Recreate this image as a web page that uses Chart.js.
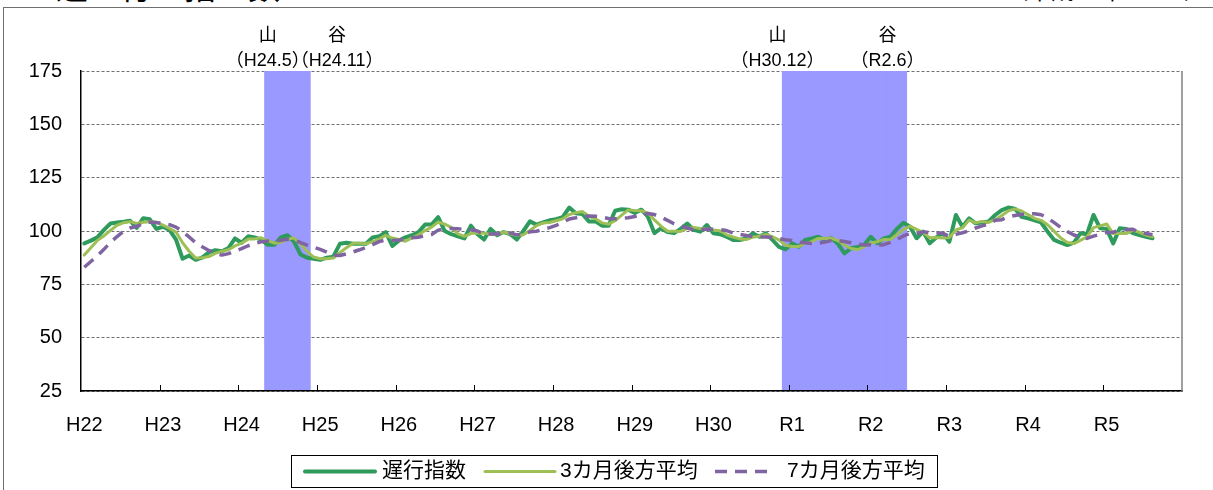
<!DOCTYPE html>
<html lang="ja">
<head>
<meta charset="UTF-8">
<title>遅行指数</title>
<script src="https://cdn.jsdelivr.net/npm/chart.js"></script>
<style>
  body { margin: 0; width: 1213px; height: 490px; overflow: hidden; position: relative; background: #fff; }
  #frame { position: absolute; left: 3px; top: 7px; width: 1300px; height: 600px; border: 1.5px solid #707070; }
  .cap { position: absolute; font-family: "Noto Sans CJK JP", sans-serif; line-height: 1; white-space: nowrap; color: #000; }
  #title { left: 56px; top: -31px; font-size: 32px; }
  #unit { right: 6px; top: -22px; font-size: 23px; }
  #wrap { position: absolute; left: 0; top: 0; width: 1213px; height: 490px; }
</style>
</head>
<body>
<div id="frame"></div>
<div id="title" class="cap">遅　行　指　数</div>
<div id="unit" class="cap">（平成27年＝100）</div>
<div id="wrap"><canvas id="chart" width="1213" height="490"></canvas></div>
<script>
  // 年の目盛り（各12か月）
  const years = ['H22', 'H23', 'H24', 'H25', 'H26', 'H27', 'H28', 'H29', 'H30', 'R1', 'R2', 'R3', 'R4', 'R5'];

  // 遅行指数（H22.1〜）
  const lagIndex = [
    94.2, 95.5, 97, 100.5, 103.5, 104, 104.3, 104.8, 101.5, 106, 105.5, 101,
    102, 100.5, 96, 87, 88.5, 86.5, 87.5, 90, 91, 90.5, 92, 96.5,
    94.5, 97.5, 97, 96, 93.5, 93.5, 97, 98, 95, 89, 87.5, 87,
    86.5, 87.5, 88, 94, 94.5, 94, 94, 94, 97, 97.5, 99.5, 93,
    95.5, 97, 98, 99.5, 103, 103, 106.5, 100, 98.5, 97.5, 96.5, 102.5,
    98.5, 96, 101, 98, 99.5, 98.5, 96, 100, 104.5, 103, 104, 105,
    105.5, 106.5, 111, 108.3, 108, 104.5, 104.5, 102.5, 102.5, 109.5, 110.2, 110,
    108.5, 110, 106.7, 99, 101.3, 99.5, 99, 101, 103.5, 100.5, 99.7, 102.8,
    98.9, 98.5, 97.3, 95.8, 95.8, 96.5, 98.9, 97.3, 98.9, 95.8, 92.6, 91.4,
    94.2, 92.6, 95.8, 96.5, 97.3, 95.8, 96.6, 94, 89.5, 91.9, 92.5, 93.4,
    97.3, 94.2, 96.5, 97.3, 101, 103.9, 102, 96.6, 99.7, 94.2, 97, 98.9,
    95, 107.5, 102, 105.9, 103.6, 104, 104.5, 107.5, 109.8, 111, 110.5, 106.7,
    105.9, 105, 104, 99.7, 95.8, 94.5, 93.4, 94.5, 98.9, 98.5, 107.5, 101.3,
    101, 94.2, 101.3, 101, 99, 98.1, 97.3, 96.6
  ];

  // 3カ月後方平均
  const avg3 = [
    88.7, 92.2, 95.6, 97.7, 100.3, 102.7, 103.9, 104.4, 103.5, 104.1, 104.3, 104.2,
    102.8, 101.2, 99.5, 94.5, 90.5, 87.3, 87.5, 88, 89.5, 90.5, 91.2, 93,
    94.3, 96.2, 96.3, 96.8, 95.5, 94.3, 94.7, 96.2, 96.7, 94, 90.5, 87.8,
    87, 87, 87.3, 89.8, 92.2, 94.2, 94.2, 94, 95, 96.2, 98, 96.7,
    96, 95.2, 96.8, 98.2, 100.2, 101.8, 104.2, 103.2, 101.7, 98.7, 97.5, 98.8,
    99.2, 99, 98.5, 98.3, 99.5, 98.7, 98, 98.2, 100.2, 102.5, 103.8, 104,
    104.8, 105.7, 107.7, 108.6, 109.1, 106.9, 105.7, 103.8, 103.2, 104.8, 107.4, 109.9,
    109.6, 109.5, 108.4, 105.2, 102.3, 99.9, 99.9, 99.8, 101.2, 101.7, 101.2, 101,
    100.5, 100.1, 98.2, 97.2, 96.3, 96, 97.1, 97.6, 98.4, 97.3, 95.8, 93.3,
    92.7, 92.7, 94.2, 95, 96.5, 96.5, 96.6, 95.5, 93.4, 91.8, 91.3, 92.6,
    94.4, 95, 96, 96, 98.3, 100.7, 102.3, 100.8, 99.4, 96.8, 97, 96.7,
    97, 100.5, 101.5, 105.1, 103.8, 104.5, 104, 105.3, 107.3, 109.4, 110.4, 109.4,
    107.7, 105.9, 105, 102.9, 99.8, 96.7, 94.6, 94.1, 95.6, 97.3, 101.6, 102.4,
    103.3, 98.8, 98.8, 98.8, 100.4, 99.4, 98.1, 97.3
  ];

  // 7カ月後方平均
  const avg7 = [
    83, 85.7, 88.4, 91.4, 94.7, 97.4, 99.9, 101.4, 102.2, 103.5, 104.2, 103.9,
    103.6, 103, 101.8, 99.7, 97.2, 94.5, 92.6, 90.9, 89.5, 88.7, 89.4, 90.6,
    91.7, 93.1, 94.1, 94.9, 95.3, 95.5, 95.6, 96.1, 95.7, 94.6, 93.4, 92.4,
    91.4, 90.1, 88.6, 88.5, 89.3, 90.2, 91.2, 92.3, 93.6, 95, 95.8, 95.6,
    95.8, 96.2, 96.8, 97.1, 97.9, 98.4, 100.4, 101, 101.2, 101.1, 100.7, 100.6,
    100, 98.5, 98.6, 98.6, 98.9, 99.1, 98.2, 98.4, 99.6, 99.9, 100.8, 101.6,
    102.6, 104.1, 105.6, 106.2, 106.9, 107, 106.9, 106.5, 105.9, 105.7, 106, 106.2,
    106.8, 107.6, 108.2, 107.7, 106.5, 105, 103.4, 102.4, 101.4, 100.5, 100.6, 100.9,
    100.8, 100.7, 100.2, 99.1, 98.4, 97.9, 97.4, 97.2, 97.2, 97, 96.5, 95.9,
    95.6, 94.7, 94.5, 94.1, 94.3, 94.8, 95.5, 95.5, 95.1, 94.5, 93.9, 93.4,
    93.6, 93.3, 93.6, 94.7, 96, 97.7, 98.9, 98.8, 99.6, 99.2, 99.2, 98.9,
    97.6, 98.4, 99.2, 100.1, 101.4, 102.4, 103.2, 105, 105.3, 106.6, 107.3, 107.7,
    108, 108.1, 107.6, 106.1, 103.9, 101.7, 99.8, 98.1, 97.3, 96.5, 97.6, 98.4,
    99.3, 99.4, 100.4, 100.7, 100.8, 99.4, 98.8, 98.2
  ];

  // 景気の山・谷
  const peaks = ['H24.5', 'H30.12'];
  const troughs = ['H24.11', 'R2.6'];

  const yMin = 25, yMax = 175;

  const months = years.flatMap(y => Array.from({ length: 12 }, (_, m) => y + '.' + (m + 1)));
  const bands = months.map(() => null);
  peaks.forEach((p, k) => {
    for (let i = months.indexOf(p); i <= months.indexOf(troughs[k]); i++) bands[i] = [yMin, yMax];
  });

  const latin = '"Liberation Sans", "Noto Sans CJK JP", sans-serif';
  const cjk = '"Noto Sans CJK JP", sans-serif';

  const decor = {
    id: 'decor',
    afterDraw(chart) {
      const { ctx, chartArea: a, scales: { x } } = chart;
      const step = x.getPixelForValue(1) - x.getPixelForValue(0);
      ctx.save();
      // 右の枠線
      ctx.strokeStyle = '#808080';
      ctx.lineWidth = 1.5;
      ctx.beginPath();
      ctx.moveTo(a.right, a.top);
      ctx.lineTo(a.right, a.bottom);
      ctx.stroke();
      // 年の目盛り（内向き）
      ctx.strokeStyle = '#000';
      ctx.lineWidth = 1;
      ctx.beginPath();
      for (let i = 12; i < months.length; i += 12) {
        const px = Math.round(x.getPixelForValue(i) - step / 2) + 0.5;
        ctx.moveTo(px, a.bottom);
        ctx.lineTo(px, a.bottom - 6);
      }
      ctx.stroke();

      // 山・谷の注記
      ctx.fillStyle = '#000';
      ctx.textAlign = 'center';
      ctx.textBaseline = 'middle';
      const peakShift = [0, -8], troughShift = [30, -16];
      peaks.forEach((p, k) => {
        const px = x.getPixelForValue(months.indexOf(p)) + peakShift[k];
        const tx = x.getPixelForValue(months.indexOf(troughs[k])) + troughShift[k];
        ctx.font = '18px ' + cjk;
        ctx.fillText('山', px, 34);
        ctx.fillText('谷', tx, 34);
        ctx.font = '18px ' + latin;
        ctx.fillText('（' + p + '）', px, 61);
        ctx.fillText('（' + troughs[k] + '）', tx, 61);
      });

      // 凡例
      const box = { x: 291, y: 455, w: 646, h: 32 };
      ctx.strokeStyle = '#000';
      ctx.lineWidth = 1;
      ctx.strokeRect(box.x + 0.5, box.y + 0.5, box.w, box.h);
      const lineStart = [305, 485, 715], lineLen = [70, 70, 52], textStart = [382, 560, 787];
      const cy = box.y + box.h / 2 + 0.5;
      ctx.textAlign = 'left';
      ctx.font = '21px ' + latin;
      chart.data.datasets.filter(d => d.type === 'line').forEach((d, k) => {
        ctx.save();
        ctx.strokeStyle = d.borderColor;
        ctx.lineWidth = d.borderWidth;
        ctx.lineCap = d.borderDash ? 'butt' : 'round';
        ctx.setLineDash(d.borderDash || []);
        ctx.beginPath();
        ctx.moveTo(lineStart[k], cy);
        ctx.lineTo(lineStart[k] + lineLen[k], cy);
        ctx.stroke();
        ctx.restore();
        ctx.fillText(d.label, textStart[k], cy);
      });
      ctx.restore();
    }
  };

  new Chart(document.getElementById('chart'), {
    data: {
      labels: months,
      datasets: [
        {
          type: 'line', label: '遅行指数', data: lagIndex,
          borderColor: '#2e9a5c', borderWidth: 4, pointRadius: 0,
          borderJoinStyle: 'round', borderCapStyle: 'round', order: 3
        },
        {
          type: 'line', label: '3カ月後方平均', data: avg3,
          borderColor: '#9dbf55', borderWidth: 3, pointRadius: 0,
          borderJoinStyle: 'round', borderCapStyle: 'round', order: 2
        },
        {
          type: 'line', label: '7カ月後方平均', data: avg7,
          borderColor: '#8064a2', borderWidth: 3.5, borderDash: [12, 8], pointRadius: 0,
          borderJoinStyle: 'round', order: 1
        },
        {
          type: 'bar', label: '景気後退期', data: bands,
          backgroundColor: '#9999ff', borderWidth: 0,
          categoryPercentage: 1, barPercentage: 1, order: 10
        }
      ]
    },
    options: {
      responsive: false,
      devicePixelRatio: 1,
      animation: false,
      events: [],
      layout: { padding: { top: 71, right: 31, left: 0, bottom: 0 } },
      plugins: { legend: { display: false }, tooltip: { enabled: false } },
      scales: {
        x: {
          type: 'category',
          grid: { display: false },
          border: { display: true, color: '#000', width: 1.5, z: 1 },
          ticks: {
            autoSkip: false, maxRotation: 0, minRotation: 0, padding: 14,
            color: '#000', font: { family: latin, size: 20 },
            callback: (v, i) => (i % 12 === 0 ? years[i / 12] : '')
          },
          afterFit: s => { s.height = 99; }
        },
        y: {
          min: yMin, max: yMax,
          grid: { color: '#707070', lineWidth: 1, drawTicks: false },
          border: { display: true, color: '#000', width: 1.5, dash: [3, 2], z: 1 },
          ticks: { stepSize: 25, padding: 19, color: '#000', font: { family: latin, size: 20 } },
          afterFit: s => { s.width = 81; }
        }
      }
    },
    plugins: [decor]
  });
</script>
</body>
</html>
